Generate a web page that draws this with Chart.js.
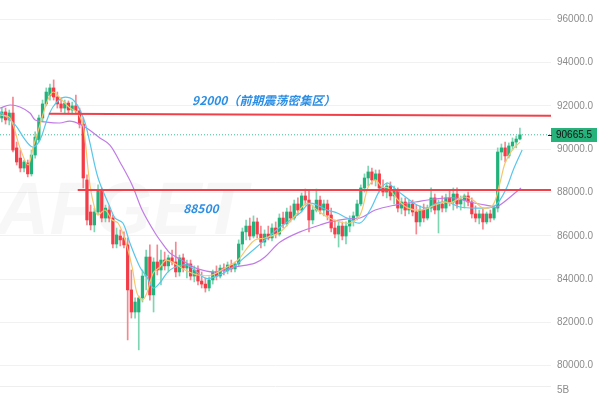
<!DOCTYPE html>
<html>
<head>
<meta charset="utf-8">
<script src="https://cdn.jsdelivr.net/npm/chart.js@4.4.1/dist/chart.umd.min.js"></script>
<style>
  html, body { margin: 0; padding: 0; background: #fff; }
  #wrap { width: 600px; height: 393px; }
</style>
</head>
<body>
<div id="wrap"><canvas id="chart" width="600" height="393"></canvas></div>
<script>
// K线数据
const opens = [
  91440, 91720, 91350, 91670, 90060, 89590, 89130, 89360, 88860, 89730,
  90430, 91440, 92090, 92460, 92830, 92410, 92090, 91900, 92130, 91810,
  92000, 91770, 91160, 88580, 87100, 86500, 87100, 88120, 86820, 87190,
  86820, 85620, 85990, 85900, 85580, 83500, 82480, 82480, 83130, 84140,
  85020, 83270, 84790, 84420, 84880, 84610, 84980, 84790, 84330, 84980,
  84510, 84700, 84140, 84420, 83910, 83770, 83590, 83960, 84330, 84140,
  84510, 84380, 84650, 84470, 84700, 85620, 86180, 86450, 85990, 86640,
  86080, 85710, 86080, 85900, 86360, 86080, 86820, 86550, 87100, 86820,
  87470, 87190, 87840, 87650, 86730, 87190, 87650, 87190, 87470, 86960,
  86360, 86080, 86450, 85990, 86450, 86730, 86920, 87470, 88210, 88670,
  88950, 88580, 88860, 88210, 88020, 88300, 87840, 88120, 87280, 87560,
  87190, 87470, 87100, 86640, 87190, 86820, 87280, 87750, 87190, 87470,
  87280, 87750, 87560, 87930, 87470, 87650, 87840, 87560, 87010, 86820,
  87010, 86640, 87010, 86820, 87280, 89870, 90060, 89690, 90150, 90330, 90470
];
const highs = [
  91900, 91900, 91810, 92410, 90330, 89960, 89500, 89500, 89960, 90800,
  91580, 92270, 92830, 93010, 93200, 92640, 92370, 92270, 92230, 92180,
  92500, 91900, 91440, 88810, 87420, 87280, 88350, 88210, 87420, 87380,
  86960, 86360, 86270, 86180, 85900, 84420, 83130, 83220, 84420, 85340,
  85580, 84980, 85580, 85340, 85250, 85110, 85340, 85710, 85110, 85160,
  84880, 84880, 84610, 84610, 84330, 84050, 84100, 84420, 84610, 84650,
  84700, 84790, 84880, 84790, 85810, 86360, 86730, 86820, 86920, 86820,
  86450, 86270, 86450, 86550, 86640, 87010, 87100, 87280, 87380, 87650,
  87750, 87980, 88160, 88120, 87420, 88160, 87840, 87650, 87650, 87280,
  86730, 86640, 86640, 86640, 86920, 87100, 87650, 88350, 88860, 89220,
  89130, 89040, 89040, 88580, 88440, 88490, 88300, 88210, 87750, 87750,
  87650, 87650, 87420, 87380, 87470, 87420, 88210, 87930, 87650, 87840,
  87930, 88120, 88210, 88210, 87840, 87930, 88020, 87750, 87380, 87190,
  87280, 87100, 87190, 87420, 90060, 90240, 90330, 90290, 90520, 90610, 90980
];
const lows = [
  91260, 91160, 91120, 89870, 89270, 88950, 88950, 88720, 88760, 89590,
  90330, 91260, 92000, 92270, 92270, 91900, 91720, 91670, 91630, 91630,
  91630, 90980, 88210, 86500, 86270, 86180, 86960, 86640, 86640, 86640,
  85440, 85440, 85530, 85440, 81190, 82200, 82200, 80730, 82940, 83500,
  83030, 82480, 84190, 83730, 84420, 84330, 84650, 84100, 84140, 84330,
  84050, 83960, 83870, 83730, 83590, 83400, 83450, 83770, 83960, 84050,
  84190, 84240, 84330, 84330, 84610, 85340, 85810, 85810, 85900, 85900,
  85440, 85530, 85810, 85760, 85900, 85990, 86360, 86450, 86640, 86730,
  86960, 87100, 87420, 86180, 86550, 87100, 87010, 86920, 86730, 86180,
  85900, 85480, 85810, 85620, 86180, 86450, 86730, 87380, 88020, 88300,
  88390, 88300, 88020, 87840, 87750, 87650, 87470, 87100, 87010, 86920,
  87010, 86920, 86080, 86450, 86640, 86730, 87100, 87010, 86130, 87100,
  87100, 87380, 87190, 87280, 87190, 87280, 87380, 86820, 86640, 86550,
  86310, 86550, 86640, 86730, 87100, 89500, 89410, 89590, 89960, 90060, 90430
];
const closes = [
  91720, 91350, 91670, 89960, 89410, 89130, 89410, 88860, 89730, 90560,
  91440, 92090, 92640, 92830, 92410, 92090, 91900, 92130, 91810, 92000,
  91770, 91160, 88670, 86730, 86500, 87100, 88120, 86820, 87280, 86820,
  85620, 86040, 85810, 85580, 83500, 82480, 82940, 83130, 84140, 85020,
  83270, 84790, 84420, 84880, 84610, 84980, 84790, 84330, 84980, 84510,
  84700, 84140, 84420, 83910, 83770, 83590, 83960, 84330, 84140, 84510,
  84380, 84650, 84470, 84700, 85620, 86180, 86450, 85990, 86640, 86080,
  85710, 86080, 85900, 86360, 86080, 86820, 86550, 87100, 86820, 87470,
  87190, 87840, 87650, 86730, 87190, 87650, 87190, 87470, 86960, 86360,
  86080, 86450, 85990, 86450, 86730, 86920, 87470, 88210, 88670, 88950,
  88580, 88860, 88210, 88020, 88300, 87840, 88120, 87280, 87560, 87190,
  87470, 87100, 86640, 87190, 86820, 87280, 87750, 87190, 87470, 87280,
  87750, 87560, 87930, 87470, 87650, 87840, 87560, 87010, 86820, 87010,
  86640, 87010, 86820, 87280, 89870, 90060, 89690, 90150, 90330, 90470, 90665.5
];

// 均线 [K线序号, 价格]
const maFast = [
  [-0.5, 91580], [2.2, 91440], [4.9, 90060], [7.1, 89270], [8.4, 90060], [10.3, 91120],
  [12.2, 92180], [13.8, 92640], [15.7, 92370], [18.4, 91900], [20.3, 91720], [21.9, 91120],
  [22.5, 90430], [23.8, 88350], [25.2, 87190], [26, 86960], [27.9, 87190], [29.8, 86730],
  [31.4, 86590], [33.3, 85810], [35.2, 84560], [36.5, 83360], [37.9, 83030], [39.2, 83360],
  [40.9, 84280], [42.7, 84560], [44.6, 84880], [49.5, 84420], [53, 84190], [56.8, 84190],
  [60.3, 84510], [63.8, 84880], [66.5, 85480], [68.4, 85810], [71.1, 85900], [75.2, 86180],
  [78.7, 86820], [82.5, 87510], [85.2, 87190], [87.9, 86870], [91.4, 86640], [94.1, 86590],
  [96.8, 86960], [99, 88250], [100.9, 88580], [102.7, 88250], [104.4, 88210], [107.1, 87650],
  [109.8, 87280], [113.6, 87190], [117.1, 87420], [119.8, 87560], [121.1, 87510], [124.6, 87790],
  [127.3, 87650], [130, 87280], [132.7, 87420], [134.6, 88440], [136, 89360], [137.9, 89960],
  [140, 90330]
];
const maMid = [
  [-0.5, 91720], [3.6, 91120], [6.3, 90430], [8.4, 90100], [10.3, 90430], [12.2, 91350],
  [13.8, 91950], [16.3, 92370], [18.4, 92370], [19.8, 92180], [21.1, 91810], [22.5, 91210],
  [23.8, 90290], [26, 88670], [29.2, 87330], [30.6, 86820], [32.7, 86590], [34.6, 85670],
  [37.3, 84560], [39.2, 84100], [40.9, 83590], [42.7, 83820], [44.6, 84280], [46.3, 84510],
  [50, 84650], [54.9, 84050], [57.6, 84100], [62.2, 84510], [65.7, 85020], [71.1, 85810],
  [75.2, 86410], [80.6, 87050], [83.3, 87510], [87.9, 87190], [90.6, 87050], [93.3, 86820],
  [96.8, 86590], [99.5, 87190], [102.2, 88120], [104.1, 88440], [105.7, 88250], [108.4, 87880],
  [112.2, 87420], [114.9, 87280], [117.6, 87510], [120.3, 87560], [123.8, 87330], [128.4, 87280],
  [132.7, 87330], [134.6, 87650], [136.5, 88250], [138.2, 89040], [140.6, 89960]
];
const maSlow = [
  [-0.5, 91900], [2.2, 92040], [4.9, 91950], [7.6, 91670], [9, 91350], [11.7, 91260],
  [15.7, 91210], [18.4, 91300], [21.1, 91160], [23.3, 90930], [26.5, 90520], [29.2, 90190],
  [31.9, 89410], [35.2, 88350], [37.9, 87190], [41.4, 86130], [44.1, 85480], [45.4, 85210],
  [49.5, 84790], [53, 84470], [57.6, 84330], [63, 84560], [68.4, 84740], [71.1, 85020],
  [75.2, 85710], [80.6, 86180], [86, 86500], [88.7, 86640], [93.3, 86780], [96.8, 86820],
  [100.9, 87190], [106.3, 87420], [111.7, 87560], [117.1, 87700], [122.5, 87750], [126.5, 87560],
  [131.9, 87380], [133.8, 87330], [140.3, 88210]
];

// 画线和标注
const line92000 = [[12.7, 91640], [148.4, 91550]];
const line88500 = [[20.5, 88120], [148.4, 88120]];
const lastPrice = 90665.5;
const yTicks = [80000, 82000, 84000, 86000, 88000, 90000, 92000, 94000, 96000];
const notes = [
  { text: "92000（前期震荡密集区）", x: 51.4, y: 92270 },
  { text: "88500", x: 49, y: 87280 }
];

const UP = "#21b27b", DOWN = "#f23c48";
const UP_WICK = "#7ed5b2", DOWN_WICK = "#f48790";

const isUp = closes.map((c, i) => c >= opens[i]);
const wickData = closes.map((c, i) => ({ x: i, y: [lows[i], highs[i]] }));
const bodyData = closes.map((c, i) => ({ x: i, y: [opens[i], c] }));
const toPts = arr => arr.map(p => ({ x: p[0], y: p[1] }));

function lineSet(pts, color, width, extra) {
  return Object.assign({
    type: "line",
    data: toPts(pts),
    borderColor: color,
    borderWidth: width,
    pointRadius: 0,
    tension: 0.35,
    fill: false
  }, extra || {});
}

const decor = {
  id: "decor",
  beforeDatasetsDraw(chart) {
    const ctx = chart.ctx;
    ctx.save();
    ctx.fillStyle = "rgba(0,0,0,0.03)";
    ctx.font = "bold italic 74px Arial";
    ctx.textBaseline = "alphabetic";
    ctx.fillText("AFGET", -4, 234);
    ctx.restore();
  },
  afterDraw(chart) {
    const { ctx, chartArea: a, scales } = chart;
    const sx = scales.x, sy = scales.y;
    ctx.save();
    // 文字标注
    ctx.fillStyle = "#2d8fe4";
    ctx.font = "bold italic 12px 'Noto Sans CJK SC'";
    ctx.textBaseline = "middle";
    ctx.textAlign = "left";
    notes.forEach(n => ctx.fillText(n.text, sx.getPixelForValue(n.x), sy.getPixelForValue(n.y)));

    // 最新价标签
    const py = Math.round(sy.getPixelForValue(lastPrice));
    ctx.fillStyle = "#27b27c";
    ctx.fillRect(a.right, py - 7, 46, 14);
    ctx.fillStyle = "#222";
    ctx.fillRect(a.right - 3, py, 4, 1);
    ctx.fillStyle = "#111";
    ctx.font = "10px Arial";
    ctx.fillText(lastPrice.toFixed(1), a.right + 5, py + 0.5);

    // 底部成交量分隔
    ctx.strokeStyle = "#eeeeee";
    ctx.lineWidth = 1;
    ctx.beginPath();
    ctx.moveTo(0, a.bottom + 0.5);
    ctx.lineTo(a.right, a.bottom + 0.5);
    ctx.stroke();
    ctx.fillStyle = "#8c8c8c";
    ctx.fillText("5B", a.right + 6, a.bottom + 4);
    ctx.restore();
  }
};

new Chart(document.getElementById("chart"), {
  type: "bar",
  data: {
    datasets: [
      lineSet(line92000, "#f2404a", 2, { tension: 0, order: 0 }),
      lineSet(line88500, "#f2404a", 2, { tension: 0, order: 0 }),
      lineSet(maFast, "#f6c66e", 1.2, { order: 1 }),
      lineSet(maMid, "#58c7ea", 1.2, { order: 1 }),
      lineSet(maSlow, "#c17be6", 1.2, { order: 1 }),
      {
        data: bodyData,
        backgroundColor: isUp.map(u => u ? UP : DOWN),
        barThickness: 2.6,
        minBarLength: 1,
        grouped: false,
        order: 2
      },
      {
        data: wickData,
        backgroundColor: isUp.map(u => u ? UP_WICK : DOWN_WICK),
        barThickness: 1,
        grouped: false,
        order: 3
      },
      lineSet([[-0.5, lastPrice], [148.4, lastPrice]], "#3dbf95", 1, { tension: 0, borderDash: [1, 2], order: 4 })
    ]
  },
  options: {
    responsive: false,
    animation: false,
    events: [],
    layout: { padding: { left: 0, right: 0, top: 0, bottom: 7 } },
    plugins: { legend: { display: false }, tooltip: { enabled: false } },
    scales: {
      x: { type: "linear", min: -0.5, max: 148.4, offset: false, display: false },
      y: {
        position: "right",
        min: 79062,
        max: 96891,
        afterBuildTicks: ax => { ax.ticks = yTicks.map(v => ({ value: v })); },
        afterFit: ax => { ax.width = 49; ax.paddingTop = 0; ax.paddingBottom = 0; },
        grid: { color: "#f1f1f1", drawTicks: false },
        border: { display: false },
        ticks: {
          padding: 6,
          color: "#8c8c8c",
          font: { size: 10, family: "Arial" },
          callback: v => v.toFixed(1)
        }
      }
    }
  },
  plugins: [decor]
});
</script>
</body>
</html>
